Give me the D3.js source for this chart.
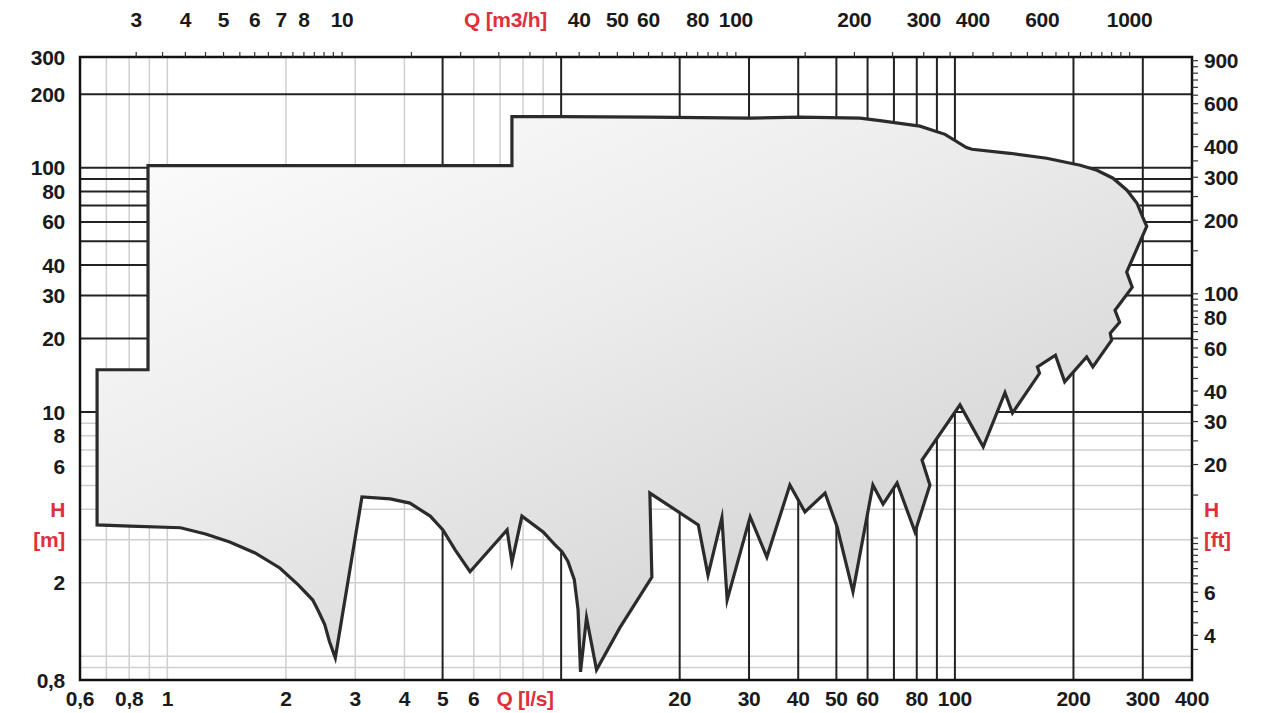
<!DOCTYPE html>
<html>
<head>
<meta charset="utf-8">
<script src="https://cdn.jsdelivr.net/npm/d3@7"></script>
<style>
  html, body { margin: 0; padding: 0; background: #fff; }
  svg { display: block; }
  text { font-family: "Liberation Sans", Arial, sans-serif; }
</style>
</head>
<body>
<div id="chart"></div>
<script>
// ---------------- DATA ----------------
// Performance field outline: flow Q [l/s] and head H [m], clockwise
const outlineQ = [0.663, 0.663, 0.893, 0.893, 7.50, 7.50, 9.93, 16.8, 30.2, 40.4, 57.4, 64.5, 81.5, 94.4, 107, 110.5,
  138, 171, 208, 229.5, 252, 273.5, 290, 300, 307,
  273, 282, 255, 262, 248, 250, 224, 216, 190, 180, 162, 164, 140, 134, 118, 103,
  82.5, 86.4, 79.2, 71.3, 65.7, 61.9, 55.1, 50.2, 46.8, 41.6, 38.1, 33.3, 30.2, 26.4, 25.6, 23.6, 22.3,
  16.8, 17.0, 14.1, 12.3, 11.6, 11.2, 11.04, 10.8, 10.4, 10.05, 9.65, 9.0, 7.95, 7.50, 7.29,
  5.87, 5.38, 5.01, 4.65, 4.13, 3.68, 3.12, 2.67, 2.58, 2.51, 2.42, 2.34, 2.15, 1.93, 1.67, 1.44, 1.25, 1.08, 0.804];
const outlineH = [3.45, 14.9, 14.9, 102, 102, 162, 162, 161, 159.5, 161, 159.5, 156, 148, 137, 121, 119,
  114.6, 109.4, 102.4, 97.7, 90.6, 80.9, 71.6, 62.7, 57.6,
  37.4, 32.4, 26.1, 23.3, 21.0, 19.7, 15.3, 16.8, 13.3, 17.1, 15.3, 14.4, 9.9, 12.0, 7.2, 10.7,
  6.36, 5.03, 3.23, 5.12, 4.20, 5.03, 1.84, 3.39, 4.66, 3.90, 5.03, 2.55, 3.72, 1.70, 3.69, 2.15, 3.45,
  4.66, 2.11, 1.31, 0.881, 1.44, 0.864, 1.55, 2.06, 2.45, 2.68, 2.86, 3.23, 3.75, 2.43, 3.29,
  2.22, 2.73, 3.29, 3.75, 4.24, 4.41, 4.49, 0.986, 1.15, 1.35, 1.53, 1.70, 1.96, 2.30, 2.65, 2.94, 3.17, 3.36, 3.41];

// Grid values
const vGridGray  = [0.7, 0.8, 0.9, 1, 2, 3, 4, 6, 7, 8, 9];                 // l/s
const vGridBlack = [5, 10, 20, 30, 40, 50, 60, 70, 80, 90, 100, 200, 300];   // l/s
const hGridBlack = [200, 100, 90, 80, 70, 60, 50, 40, 30, 20, 10];           // m
const hGridGray  = [9, 8, 7, 6, 5, 4, 3, 2, 1, 0.9];                         // m

// Tick labels
const bottomLabels = [0.6, 0.8, 1, 2, 3, 4, 5, 6, 20, 30, 40, 50, 60, 80, 100, 200, 300, 400]; // l/s
const topLabels    = [3, 4, 5, 6, 7, 8, 10, 40, 50, 60, 80, 100, 200, 300, 400, 600, 1000];  // m3/h
const leftLabels   = [300, 200, 100, 80, 60, 40, 30, 20, 10, 8, 6, 2, 0.8];                   // m
const rightLabels  = [900, 600, 400, 300, 200, 100, 80, 60, 40, 30, 20, 6, 4];                // ft

// Minor tick marks
const topTicks = [].concat(d3.range(3, 10.01, 0.5), d3.range(15, 100.1, 5), d3.range(150, 1000.1, 50)); // m3/h
const rightTicks = [].concat(d3.range(3.5, 10, 0.5), d3.range(10, 100, 5), d3.range(100, 950, 50));     // ft

const M3H_PER_LS = 3.6;
const FT_PER_M = 3.2808;

// ---------------- LAYOUT ----------------
const W = 1274, H = 713;
const plot = { left: 80, right: 1192, top: 57, bottom: 680 };

const svg = d3.select("#chart").append("svg").attr("width", W).attr("height", H);

const x = d3.scaleLog().domain([0.6, 400]).range([plot.left, plot.right]);
const y = d3.scaleLog().domain([0.8, 284]).range([plot.bottom, plot.top]).clamp(true);

const BLACK = "#222";
const GRAY = "#cfcfcf";
const RED = "#e0303c";
const fmt = v => String(v).replace(".", ",");

// gradient
const defs = svg.append("defs");
const grad = defs.append("linearGradient").attr("id", "fillGrad")
  .attr("gradientUnits", "userSpaceOnUse")
  .attr("x1", 250).attr("y1", 110).attr("x2", 500).attr("y2", 690);
grad.append("stop").attr("offset", "0").attr("stop-color", "#fbfbfb");
grad.append("stop").attr("offset", "0.5").attr("stop-color", "#ececec");
grad.append("stop").attr("offset", "1").attr("stop-color", "#d8d8d8");

defs.append("clipPath").attr("id", "rightClip")
  .append("rect").attr("x", 0).attr("y", 0).attr("width", 1247).attr("height", H);

// ---------------- GRID ----------------
const grid = svg.append("g");
grid.append("g").selectAll("line").data(vGridGray).join("line")
  .attr("x1", d => x(d)).attr("x2", d => x(d)).attr("y1", plot.top).attr("y2", plot.bottom)
  .attr("stroke", GRAY).attr("stroke-width", 1.5);
grid.append("g").selectAll("line").data(hGridGray).join("line")
  .attr("x1", plot.left).attr("x2", plot.right).attr("y1", d => y(d)).attr("y2", d => y(d))
  .attr("stroke", GRAY).attr("stroke-width", 1.5);
grid.append("g").selectAll("line").data(vGridBlack).join("line")
  .attr("x1", d => x(d)).attr("x2", d => x(d)).attr("y1", plot.top).attr("y2", plot.bottom)
  .attr("stroke", BLACK).attr("stroke-width", 2);
grid.append("g").selectAll("line").data(hGridBlack).join("line")
  .attr("x1", plot.left).attr("x2", plot.right).attr("y1", d => y(d)).attr("y2", d => y(d))
  .attr("stroke", BLACK).attr("stroke-width", 2);

// ---------------- FIELD ----------------
const pts = outlineQ.map((q, i) => [q, outlineH[i]]);
const line = d3.line().x(d => x(d[0])).y(d => y(d[1])).curve(d3.curveLinearClosed);
svg.append("path").attr("d", line(pts))
  .attr("fill", "url(#fillGrad)")
  .attr("stroke", "#2b2b2b").attr("stroke-width", 3.2)
  .attr("stroke-linejoin", "miter").attr("stroke-miterlimit", 8);

// ---------------- FRAME ----------------
svg.append("rect").attr("x", plot.left).attr("y", plot.top)
  .attr("width", plot.right - plot.left).attr("height", plot.bottom - plot.top)
  .attr("fill", "none").attr("stroke", "#111").attr("stroke-width", 2.5);

// top ticks (m3/h)
svg.append("g").selectAll("line").data(topTicks).join("line")
  .attr("x1", d => x(d / M3H_PER_LS)).attr("x2", d => x(d / M3H_PER_LS))
  .attr("y1", plot.top).attr("y2", plot.top - 5)
  .attr("stroke", "#333").attr("stroke-width", 1.2);

// right ticks (ft)
svg.append("g").selectAll("line").data(rightTicks).join("line")
  .attr("y1", d => y(d / FT_PER_M)).attr("y2", d => y(d / FT_PER_M))
  .attr("x1", plot.right).attr("x2", plot.right + 6)
  .attr("stroke", "#333").attr("stroke-width", 1.2);

// ---------------- LABELS ----------------
const lab = svg.append("g").attr("font-size", 21).attr("font-weight", "bold")
  .attr("fill", "#1a1a1a").attr("letter-spacing", "-0.3");

lab.append("g").selectAll("text").data(bottomLabels).join("text")
  .attr("x", d => x(d)).attr("y", 706).attr("text-anchor", "middle").text(fmt);
lab.append("text").attr("x", x(8.1)).attr("y", 706).attr("text-anchor", "middle")
  .attr("fill", RED).text("Q [l/s]");

lab.append("g").selectAll("text").data(topLabels).join("text")
  .attr("x", d => x(d / M3H_PER_LS)).attr("y", 27).attr("text-anchor", "middle").text(fmt);
lab.append("text").attr("x", x(26 / M3H_PER_LS)).attr("y", 27).attr("text-anchor", "middle")
  .attr("fill", RED).text("Q [m3/h]");

lab.append("g").selectAll("text").data(leftLabels).join("text")
  .attr("x", 65).attr("y", d => y(d)).attr("dy", "0.36em").attr("text-anchor", "end").text(fmt);
lab.append("text").attr("x", 65).attr("y", y(4)).attr("dy", "0.36em").attr("text-anchor", "end")
  .attr("fill", RED).text("H");
lab.append("text").attr("x", 65).attr("y", y(3)).attr("dy", "0.36em").attr("text-anchor", "end")
  .attr("fill", RED).text("[m]");

const rg = lab.append("g").attr("clip-path", "url(#rightClip)");
rg.append("g").selectAll("text").data(rightLabels).join("text")
  .attr("x", 1204).attr("y", d => y(d / FT_PER_M)).attr("dy", "0.36em").text(fmt);
rg.append("text").attr("x", 1204).attr("y", y(4)).attr("dy", "0.36em").attr("fill", RED).text("H");
rg.append("text").attr("x", 1204).attr("y", y(3)).attr("dy", "0.36em").attr("fill", RED).text("[ft]");
</script>
</body>
</html>
